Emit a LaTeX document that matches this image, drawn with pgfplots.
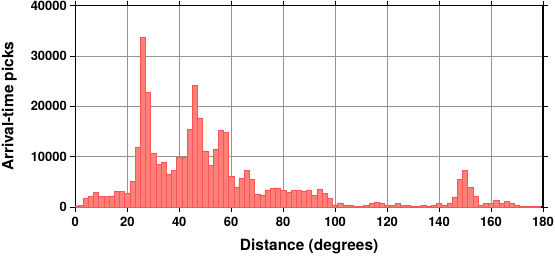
\documentclass[border=0pt]{standalone}
\usepackage{fontspec}
\setmainfont{TeX Gyre Heros}
\usepackage{pgfplots}
\pgfplotsset{compat=1.18}
\definecolor{barfill}{RGB}{255,128,120}
\definecolor{baredge}{RGB}{250,85,85}
\begin{document}
\begin{tikzpicture}
\begin{axis}[
  at={(0,0)}, anchor=south west,
  scale only axis,
  width=467.7bp, height=201.3bp,
  xmin=0, xmax=180, ymin=0, ymax=40000,
  xtick distance=20, ytick distance=10000,
  scaled y ticks=false,
  /pgf/number format/assume math mode=true,
  /pgf/number format/1000 sep={},
  tick align=outside,
  major tick length=5bp,
  tick style={line width=0.8bp, black},
  axis line style={line width=1.5bp, black},
  grid=major,
  grid style={line width=0.6bp, black!42},
  ticklabel style={font=\bfseries\fontsize{13}{13}\selectfont},
  xticklabel style={yshift=-2bp},
  label style={font=\bfseries\fontsize{15.5}{15.5}\selectfont},
  xlabel={Distance (degrees)},
  ylabel={Arrival-time picks},
  xlabel style={at={(axis description cs:0.5,0)}, anchor=north, yshift=-28bp},
  ylabel style={at={(axis description cs:0,0.5)}, anchor=base, yshift=62bp},
  clip=true,
]
\addplot[ybar, bar width=2, bar shift=0pt, fill=barfill, draw=baredge, line width=0.5bp]
coordinates {
(0,200) (2,300) (4,1650) (6,2100) (8,2850) (10,2100) (12,2050) (14,2200)
(16,3100) (18,3100) (20,2750) (22,5150) (24,11950) (26,33700) (28,22750)
(30,10700) (32,8400) (34,8800) (36,6600) (38,7350) (40,9850) (42,9950)
(44,15400) (46,24200) (48,17700) (50,11150) (52,8300) (54,11550) (56,15300)
(58,14850) (60,6050) (62,4000) (64,5800) (66,7250) (68,5450) (70,2600)
(72,2400) (74,3400) (76,3700) (78,3650) (80,3400) (82,2900) (84,3300)
(86,3250) (88,3150) (90,3250) (92,2300) (94,3450) (96,2650) (98,1650)
(100,400) (102,800) (104,400) (106,250) (108,80) (110,80) (112,250)
(114,650) (116,850) (118,650) (120,400) (122,270) (124,650) (126,270)
(128,400) (130,200) (132,200) (134,400) (136,200) (138,400) (140,650)
(142,400) (144,800) (146,2000) (148,5450) (150,7250) (152,3850) (154,2200)
(156,400) (158,650) (160,650) (162,1250) (164,650) (166,1050) (168,800)
(170,400) (172,60) (174,60) (176,60) (178,60)
};
\end{axis}
\pgfresetboundingbox
\path (-75.3bp,-51bp) rectangle (479.7bp,207bp);
\end{tikzpicture}
\end{document}
